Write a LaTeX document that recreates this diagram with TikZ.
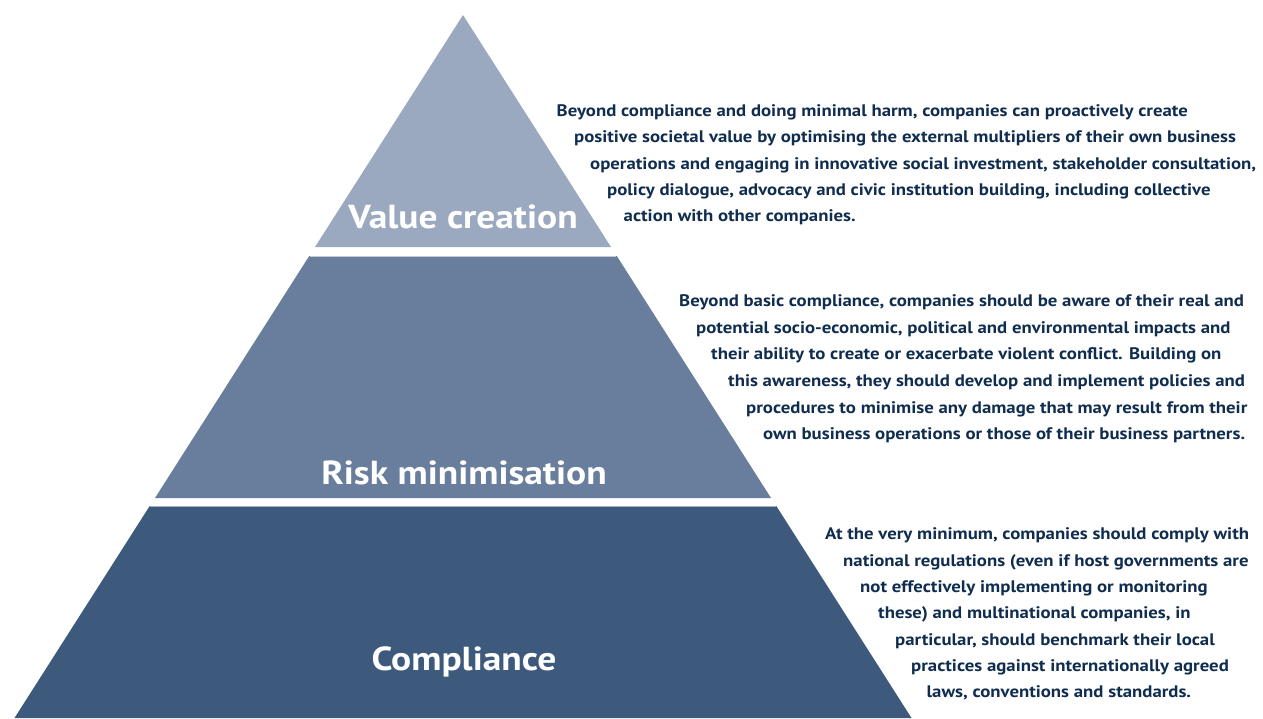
\documentclass[tikz,border=0pt]{standalone}
\usepackage{fontspec}
\setmainfont[FakeStretch=1.125]{PT Sans}
\usepackage{tikz}

\definecolor{valuefill}{RGB}{155,169,192}
\definecolor{riskfill}{RGB}{104,126,156}
\definecolor{complyfill}{RGB}{61,90,124}
\definecolor{blurbtext}{RGB}{16,45,80}

\begin{document}
\begin{tikzpicture}
            [x=1pt,y=-1pt,every node/.style={inner sep=0pt},
             layertitle/.style={anchor=base,text=white,font=\bfseries\fontsize{33.3}{36}\selectfont},
             blurb/.style={anchor=base west,text=blurbtext,font=\bfseries\fontsize{16.7}{20}\selectfont}]
            \useasboundingbox (0,0) rectangle (1263,718);
            % the three layers
            \fill[valuefill] (463,15) -- (315,247) -- (611,247) -- cycle;
            \fill[riskfill] (309.2,256) -- (616.8,256) -- (771,498) -- (155,498) -- cycle;
            \fill[complyfill] (149.7,506) -- (776.3,506) -- (911.5,718) -- (14.5,718) -- cycle;
            \draw[valuefill!60,line width=1pt] (309.8,256.5) -- (616.2,256.5);
            \draw[riskfill!60,line width=1pt] (150.3,506.5) -- (775.7,506.5);
            % layer names
            \node[layertitle] (value) at (463,228) {Value creation};
            \node[layertitle] (risk) at (464,484) {Risk minimisation};
            \node[layertitle] (comply) at (464,670) {Compliance};
            % value creation text
            \node[blurb] (v1) at (556.5,116) {Beyond compliance and doing minimal harm, companies can proactively create};
            \node[blurb] (v2) at (574,142.5) {positive societal value by optimising the external multipliers of their own business};
            \node[blurb] (v3) at (590,169) {operations and engaging in innovative social investment, stakeholder consultation,};
            \node[blurb] (v4) at (607,195) {policy dialogue, advocacy and civic institution building, including collective};
            \node[blurb] (v5) at (623.5,221) {action with other companies.};
            % risk minimisation text
            \node[blurb] (r1) at (679,306) {Beyond basic compliance, companies should be aware of their real and};
            \node[blurb] (r2) at (696,333) {potential socio-economic, political and environmental impacts and};
            \node[blurb] (r3) at (711,359) {their ability to create or exacerbate violent conflict. Building on};
            \node[blurb] (r4) at (728,386) {this awareness, they should develop and implement policies and};
            \node[blurb] (r5) at (746,413) {procedures to minimise any damage that may result from their};
            \node[blurb] (r6) at (763,439) {own business operations or those of their business partners.};
            % compliance text
            \node[blurb] (c1) at (825,539) {At the very minimum, companies should comply with};
            \node[blurb] (c2) at (843,566) {national regulations (even if host governments are};
            \node[blurb] (c3) at (860,592) {not effectively implementing or monitoring};
            \node[blurb] (c4) at (878,618) {these) and multinational companies, in};
            \node[blurb] (c5) at (895,645) {particular, should benchmark their local};
            \node[blurb] (c6) at (911,671) {practices against internationally agreed};
            \node[blurb] (c7) at (926.5,697) {laws, conventions and standards.};
        \end{tikzpicture}
\end{document}
